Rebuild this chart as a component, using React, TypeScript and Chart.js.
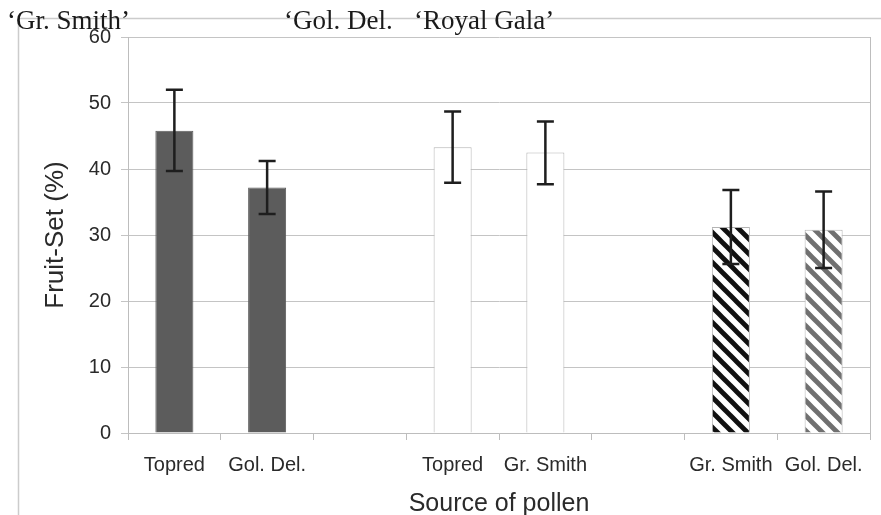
import React, { useEffect, useRef } from "react";
import { Chart, registerables } from "chart.js";

Chart.register(...registerables);

// ---- data ----
const categories = ["Topred", "Gol. Del.", "", "Topred", "Gr. Smith", "", "Gr. Smith", "Gol. Del."];
const fruitSet = [45.8, 37.2, null, 43.3, 42.5, null, 31.2, 30.8];
const errLow = [39.7, 33.2, null, 37.9, 37.7, null, 25.6, 25.0];
const errHigh = [52.0, 41.2, null, 48.7, 47.2, null, 36.8, 36.6];
const yTickValues = [0, 10, 20, 30, 40, 50, 60];
const groupLabels = ["\u2018Gr. Smith\u2019", "\u2018Gol. Del.", "\u2018Royal Gala\u2019"];
const xTitle = "Source of pollen";
const yTitle = "Fruit-Set (%)";

// ---- styles ----
const barKinds = ["solid", "solid", "none", "open", "open", "none", "hatchDark", "hatchGray"];
const groupLabelX = [7, 284, 414];
const groupLabelBaseline = 29;

function makeHatch(color: string) {
  const s = 15;
  const c = document.createElement("canvas");
  c.width = s;
  c.height = s;
  const g = c.getContext("2d")!;
  g.fillStyle = "#ffffff";
  g.fillRect(0, 0, s, s);
  g.strokeStyle = color;
  g.lineWidth = 4.8;
  g.lineCap = "square";
  for (const k of [-s, 0, s]) {
    g.beginPath();
    g.moveTo(k, 0);
    g.lineTo(k + s, s);
    g.stroke();
  }
  return g.createPattern(c, "repeat")!;
}

export default function App() {
  const ref = useRef<HTMLCanvasElement | null>(null);

  useEffect(() => {
    document.body.style.margin = "0";
    const canvas = ref.current!;
    const hatchDark = makeHatch("#111111");
    const hatchGray = makeHatch("#707070");

    const fills = barKinds.map((k) =>
      k === "solid" ? "#5c5c5c" : k === "open" ? "#ffffff" : k === "hatchDark" ? hatchDark : k === "hatchGray" ? hatchGray : "rgba(0,0,0,0)"
    );
    const borders = barKinds.map((k) => (k === "solid" ? "#5c5c5c" : "#b4b4b4"));

    const decor = {
      id: "decor",
      beforeDraw(chart: any) {
        const ctx = chart.ctx;
        ctx.save();
        ctx.strokeStyle = "#cccccc";
        ctx.lineWidth = 1.5;
        ctx.beginPath();
        ctx.moveTo(18.5, 515);
        ctx.lineTo(18.5, 18.5);
        ctx.lineTo(881, 18.5);
        ctx.stroke();
        ctx.restore();
      },
      afterDatasetsDraw(chart: any) {
        const ctx = chart.ctx;
        const ca = chart.chartArea;
        const y = chart.scales.y;
        const meta = chart.getDatasetMeta(0);
        ctx.save();
        ctx.strokeStyle = "#bdbdbd";
        ctx.lineWidth = 1;
        ctx.beginPath();
        ctx.moveTo(Math.round(ca.right) + 0.5, ca.top);
        ctx.lineTo(Math.round(ca.right) + 0.5, ca.bottom);
        ctx.stroke();

        ctx.strokeStyle = "#1e1e1e";
        ctx.lineWidth = 2.5;
        const cap = 8.5;
        meta.data.forEach((bar: any, i: number) => {
          if (errHigh[i] == null || errLow[i] == null) return;
          const yh = y.getPixelForValue(errHigh[i]);
          const yl = y.getPixelForValue(errLow[i]);
          const x = bar.x;
          ctx.beginPath();
          ctx.moveTo(x, yh);
          ctx.lineTo(x, yl);
          ctx.moveTo(x - cap, yh);
          ctx.lineTo(x + cap, yh);
          ctx.moveTo(x - cap, yl);
          ctx.lineTo(x + cap, yl);
          ctx.stroke();
        });
        ctx.restore();
      },
      afterDraw(chart: any) {
        const ctx = chart.ctx;
        ctx.save();
        ctx.fillStyle = "#1a1a1a";
        ctx.font = '27px "Liberation Serif", "Times New Roman", serif';
        ctx.textBaseline = "alphabetic";
        ctx.textAlign = "left";
        groupLabels.forEach((t, i) => ctx.fillText(t, groupLabelX[i], groupLabelBaseline));
        ctx.restore();
      },
    };

    const chart = new Chart(canvas, {
      type: "bar",
      data: {
        labels: categories,
        datasets: [
          {
            data: fruitSet as any,
            backgroundColor: fills as any,
            borderColor: borders,
            borderWidth: 1,
            barPercentage: 0.41,
            categoryPercentage: 1,
          },
        ],
      },
      plugins: [decor],
      options: {
        responsive: false,
        animation: false,
        layout: { padding: { top: 37, right: 11, left: 0, bottom: 0 } },
        plugins: { legend: { display: false }, tooltip: { enabled: false }, title: { display: false } },
        scales: {
          x: {
            offset: true,
            grid: {
              offset: true,
              drawOnChartArea: false,
              drawTicks: true,
              tickLength: 7,
              color: "#bdbdbd",
            },
            border: { color: "#bdbdbd", width: 1 },
            ticks: {
              color: "#2a2a2a",
              font: { family: '"Liberation Sans", Arial, sans-serif', size: 20 },
              padding: 13,
              maxRotation: 0,
              autoSkip: false,
            },
            title: {
              display: true,
              text: xTitle,
              color: "#2a2a2a",
              font: { family: '"Liberation Sans", Arial, sans-serif', size: 25, lineHeight: 1 },
              padding: { top: 0, bottom: -2 },
            },
            afterFit: (s: any) => {
              s.height = 82;
            },
          },
          y: {
            min: 0,
            max: 60,
            afterBuildTicks: (s: any) => {
              s.ticks = yTickValues.map((v) => ({ value: v }));
            },
            grid: { color: "#c4c4c4", tickLength: 7, drawTicks: true },
            border: { color: "#bdbdbd", width: 1 },
            ticks: {
              color: "#2a2a2a",
              font: { family: '"Liberation Sans", Arial, sans-serif', size: 20 },
              padding: 10,
            },
            title: {
              display: true,
              text: yTitle,
              color: "#2a2a2a",
              font: { family: '"Liberation Sans", Arial, sans-serif', size: 26, lineHeight: 1 },
              padding: { top: 43, bottom: 0 },
            },
            afterFit: (s: any) => {
              s.width = 128;
            },
          },
        },
      },
    });
    return () => chart.destroy();
  }, []);

  return (
    <div style={{ width: 881, height: 515 }}>
      <canvas ref={ref} width={881} height={515} style={{ display: "block" }} />
    </div>
  );
}
